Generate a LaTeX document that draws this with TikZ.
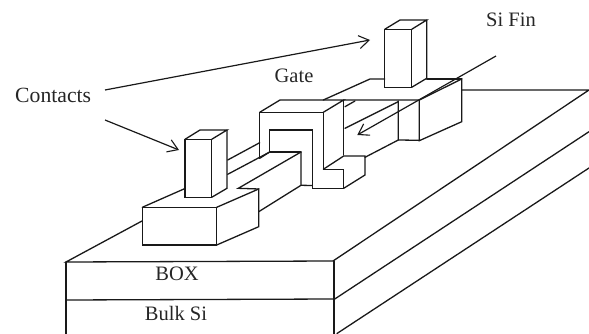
\documentclass[tikz,border=0pt]{standalone}
\usepackage{fontspec}
\setmainfont{Liberation Serif}
\usetikzlibrary{arrows.meta}
\tikzset{
  edge/.style={line width=1.3pt,black!90,line join=miter,line cap=round},
  callout/.style={line width=1.2pt,black!90,-{Straight Barb[length=10pt,width=13pt,line width=1.1pt]}},
  lbl/.style={inner sep=0pt,font=\fontsize{20.5}{23}\selectfont,text=black!85}
}
\begin{document}
\begin{tikzpicture}[x=1pt,y=-1pt]
\useasboundingbox (0,0) rectangle (589,334);
% text
\node[lbl,anchor=west,font=\fontsize{21.7}{24}\selectfont] (contacts) at (15,95) {Contacts};
\node[lbl] (gate) at (294,76) {Gate};
\node[lbl] (sifin) at (511,20) {Si Fin};
\node[lbl] (box) at (177,274) {BOX};
\node[lbl] (bulk) at (176,313) {Bulk Si};
% substrate
\draw[edge] (142,221) -- (66,262) -- (333,261) -- (589,90) -- (461.7,90);
\draw[edge] (66,262) -- (66,334);
\draw[edge] (66,300) -- (334,299) ;
\draw[edge] (334,261) -- (334,334);
\draw[edge] (334,299.5) -- (589,131.7);
\draw[edge] (337,333.5) -- (589,168);
% source block
\draw[edge] (142.3,207.3) rectangle (216.7,245);
\draw[edge] (142.3,207.3) -- (185,188.5);
\draw[edge] (216.7,207.3) -- (258.7,189) -- (258.7,226.7) -- (216.7,245);
\draw[edge] (258.7,189) -- (238.3,188.3) -- (301,152);
% fin near side
\draw[edge] (258.7,211.7) -- (301,185.3) -- (301,152);
\draw[edge] (301,185.3) -- (312.3,185.5);
\draw[edge] (227.7,160) -- (259.7,142.7);
\draw[edge] (227.7,174.3) -- (269.7,152);
\draw[edge] (259.7,158.3) -- (269.7,152);
% gate
\draw[edge] (259.7,158.3) -- (259.7,112.3) -- (323.3,112.3) -- (323.3,169.3) -- (343.7,169.3) -- (343.7,188.3) -- (312.3,188.3) -- (312.3,130) -- (269.7,130) -- (269.7,152) -- (301,152);
\draw[edge] (259.7,112.3) -- (280,100) -- (343.7,100) -- (323.3,112.3);
\draw[edge] (343.7,100) -- (343.7,155);
\draw[edge] (323.3,169.3) -- (343.7,156) -- (365,156) -- (365,175) -- (343.7,188.3);
% drain block
\draw[edge] (323.3,100) -- (370,79) -- (384.7,79);
\draw[edge] (343.7,100) -- (419.3,100) -- (419.3,140.7) -- (461.7,121.7) -- (461.7,79) -- (419.3,100);
\draw[edge] (426.7,79) -- (461.7,79);
\draw[edge] (398.3,101) -- (398.3,140) -- (419.3,140.3);
\draw[edge] (398.3,140) -- (365,157.3);
\draw[edge] (398.3,101.7) -- (345,128.3);
\draw[edge] (355,101) -- (345,106.7);
% contacts
\draw[edge] (185,139.3) rectangle (211.7,197.3);
\draw[edge] (185,139.3) -- (200,130) -- (227,130) -- (211.7,139.3);
\draw[edge] (227,130) -- (227,188.3) -- (211.7,197.3);
\draw[edge] (384.7,29.3) rectangle (411.7,87.3);
\draw[edge] (384.7,29.3) -- (400,20) -- (426.7,20) -- (411.7,29.3);
\draw[edge] (426.7,20) -- (426.7,78.3) -- (411.7,87.3);
% callouts
\coordinate (a1s) at (105,90);
\coordinate (a1e) at (370,40);
\coordinate (a2s) at (105,120);
\coordinate (a2e) at (179,150);
\coordinate (a3s) at (496,56);
\coordinate (a3e) at (357.3,135);
\draw[callout] (a1s) -- (a1e);
\draw[callout] (a2s) -- (a2e);
\draw[callout] (a3s) -- (a3e);
\end{tikzpicture}
\end{document}
